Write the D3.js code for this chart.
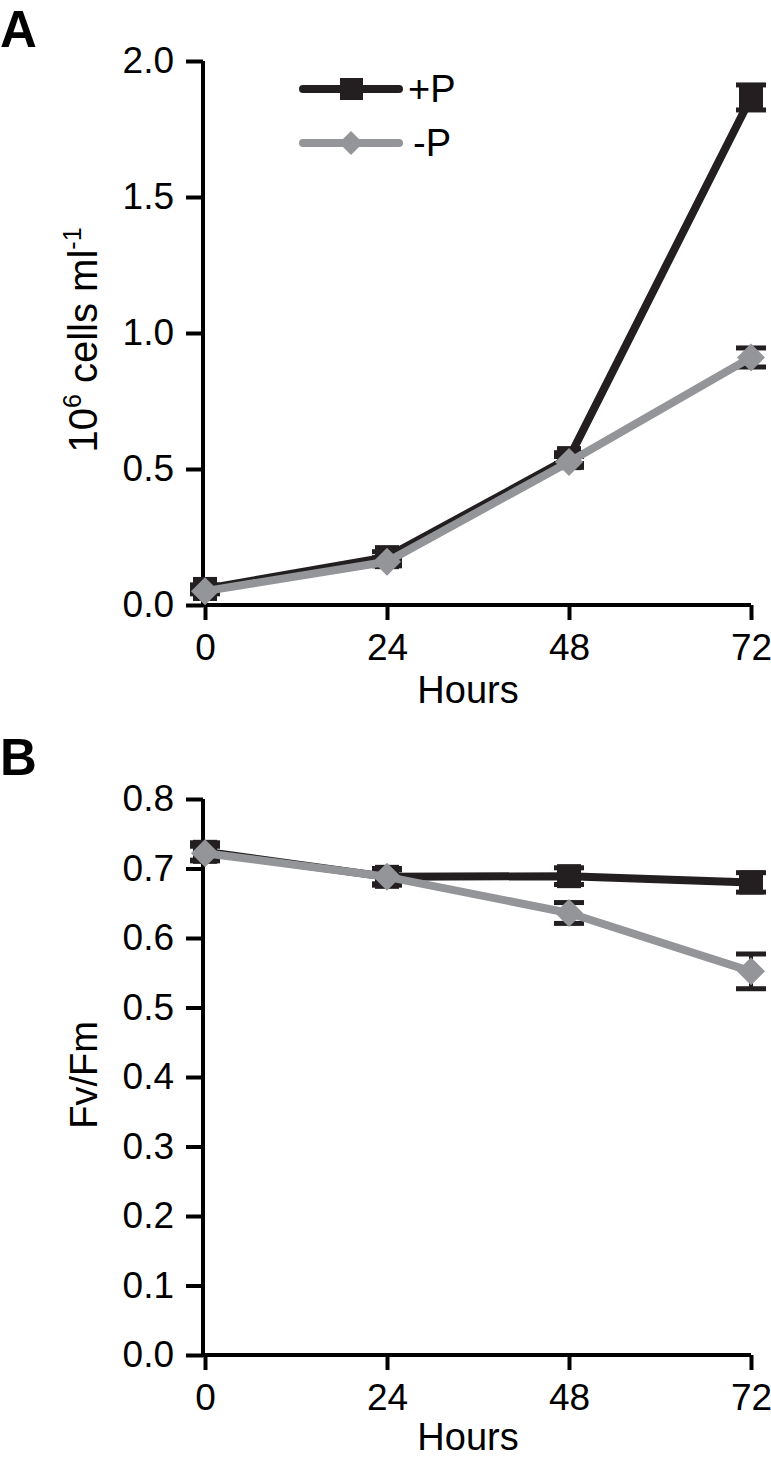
<!DOCTYPE html>
<html><head><meta charset="utf-8">
<script src="https://cdn.jsdelivr.net/npm/d3@7"></script>
<style>
html,body{margin:0;padding:0;background:#fff;}
text{font-family:"Liberation Sans",Arial,Helvetica,sans-serif;fill:#000;}
</style></head>
<body>
<svg id="chart" width="771" height="1457"></svg>
<script>
const hours = [0, 24, 48, 72];
const xTicks = [0, 24, 48, 72];
const cellsPlus = [0.059, 0.176, 0.54, 1.866];
const cellsPlusErr = [0.015, 0.02, 0.02, 0.046];
const cellsMinus = [0.051, 0.159, 0.526, 0.91];
const cellsMinusErr = [0.01, 0.015, 0.02, 0.035];
const fvfmPlus = [0.724, 0.688, 0.689, 0.680];
const fvfmPlusErr = [0.013, 0.012, 0.012, 0.014];
const fvfmMinus = [0.722, 0.688, 0.636, 0.552];
const fvfmMinusErr = [0.01, 0.01, 0.015, 0.025];
const yTicksA = [0, 0.5, 1.0, 1.5, 2.0];
const yTicksB = [0, 0.1, 0.2, 0.3, 0.4, 0.5, 0.6, 0.7, 0.8];
const seriesNames = ["+P", "-P"];

const BLACK = "#231f20", GREY = "#939598";
const svg = d3.select("#chart");

function panel(cfg) {
  const g = svg.append("g");
  const x = d3.scaleLinear().domain([0, 72]).range([205, 751]);
  const y = d3.scaleLinear().domain(cfg.yDomain).range([cfg.y0, cfg.y1]);

  const ya = g.append("g").attr("transform", "translate(203,0)")
    .call(d3.axisLeft(y).tickValues(cfg.yTicks).tickSize(17).tickPadding(12)
      .tickFormat(d3.format(".1f")));
  ya.select(".domain").attr("d", `M0,${cfg.y1}V${cfg.y0}`);
  const xa = g.append("g").attr("transform", `translate(0,${cfg.y0})`)
    .call(d3.axisBottom(x).tickValues(xTicks).tickSize(15).tickPadding(10));
  xa.select(".domain").attr("d", `M203,0H751`);
  [ya, xa].forEach(a => {
    a.selectAll("path,line").attr("stroke", "#000").attr("stroke-width", 4);
    a.selectAll("text").attr("font-size", 37).attr("font-family", '"Liberation Sans",Arial,sans-serif').attr("fill", "#000");
  });
  xa.selectAll("text").attr("dy", "0.8em");

  const series = [
    {vals: cfg.plus, err: cfg.plusErr, color: BLACK, shape: "sq"},
    {vals: cfg.minus, err: cfg.minusErr, color: GREY, shape: "dm"}
  ];
  series.forEach(s => {
    const eg = g.append("g");
    hours.forEach((h, i) => {
      const cx = x(h), top = y(s.vals[i] + s.err[i]), bot = y(s.vals[i] - s.err[i]);
      eg.append("line").attr("x1", cx).attr("x2", cx).attr("y1", top).attr("y2", bot)
        .attr("stroke", BLACK).attr("stroke-width", 4);
      [top, bot].forEach(yy => eg.append("line").attr("x1", cx - 15).attr("x2", cx + 15)
        .attr("y1", yy).attr("y2", yy).attr("stroke", BLACK).attr("stroke-width", 5));
    });
  });
  const line = d3.line().x((d, i) => x(hours[i])).y(d => y(d));
  series.forEach(s => {
    g.append("path").datum(s.vals).attr("d", line).attr("fill", "none")
      .attr("stroke", s.color).attr("stroke-width", 8).attr("stroke-linejoin", "round");
    hours.forEach((h, i) => {
      const cx = x(h), cy = y(s.vals[i]);
      if (s.shape === "sq") {
        g.append("rect").attr("x", cx - 12).attr("y", cy - 12).attr("width", 24).attr("height", 24).attr("fill", BLACK);
      } else {
        g.append("path").attr("d", `M${cx},${cy - 14}L${cx + 14},${cy}L${cx},${cy + 14}L${cx - 14},${cy}Z`).attr("fill", GREY);
      }
    });
  });

  g.append("text").attr("x", 468).attr("y", cfg.hoursY).attr("text-anchor", "middle")
    .attr("font-size", 38).text("Hours");
  g.append("text").attr("x", 0).attr("y", cfg.letterY).attr("font-size", 51)
    .attr("font-weight", "bold").text(cfg.letter);
  return {x, y, g};
}

panel({yDomain: [0, 2], y0: 605, y1: 61, yTicks: yTicksA, plus: cellsPlus, plusErr: cellsPlusErr,
  minus: cellsMinus, minusErr: cellsMinusErr, hoursY: 703, letter: "A", letterY: 47});
panel({yDomain: [0, 0.8], y0: 1355, y1: 799, yTicks: yTicksB, plus: fvfmPlus, plusErr: fvfmPlusErr,
  minus: fvfmMinus, minusErr: fvfmMinusErr, hoursY: 1450, letter: "B", letterY: 775});

const yl = svg.append("text").attr("transform", "translate(97,340) rotate(-90)")
  .attr("text-anchor", "middle").attr("font-size", 40);
yl.append("tspan").text("10");
yl.append("tspan").attr("font-size", 25).attr("dy", -16).text("6");
yl.append("tspan").attr("dy", 16).text(" cells ml");
yl.append("tspan").attr("font-size", 25).attr("dy", -16).text("-1");
svg.append("text").attr("transform", "translate(97,1075) rotate(-90)")
  .attr("text-anchor", "middle").attr("font-size", 38).text("Fv/Fm");

const legend = svg.append("g");
const legY = [89, 143];
seriesNames.forEach((name, i) => {
  const col = i === 0 ? BLACK : GREY;
  const ly = legY[i];
  legend.append("line").attr("x1", 303).attr("x2", 399).attr("y1", ly).attr("y2", ly)
    .attr("stroke", col).attr("stroke-width", 8).attr("stroke-linecap", "round");
  if (i === 0) legend.append("rect").attr("x", 340).attr("y", ly - 11).attr("width", 23).attr("height", 22).attr("fill", BLACK);
  else legend.append("path").attr("d", `M351,${ly - 12}L363,${ly}L351,${ly + 12}L339,${ly}Z`).attr("fill", GREY);
  legend.append("text").attr("x", i === 0 ? 408 : 413).attr("y", ly + 13).attr("font-size", 38).text(name);
});
</script>
</body></html>
